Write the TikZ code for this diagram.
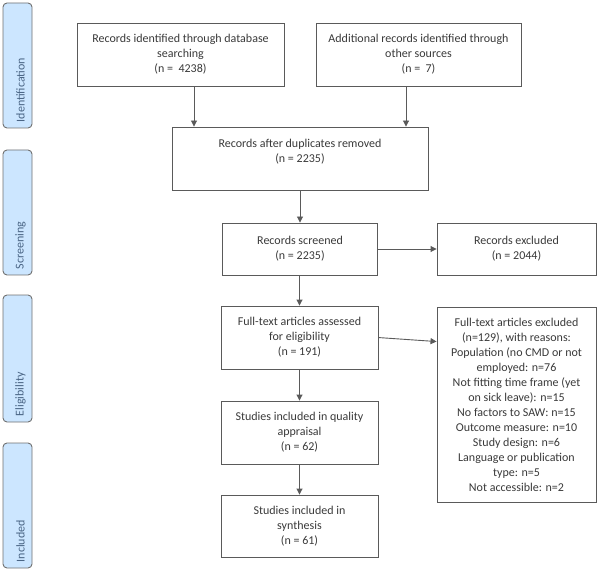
\documentclass[tikz,border=0pt]{standalone}
\usepackage{fontspec}
\setmainfont{Carlito}
\usetikzlibrary{arrows.meta,calc}
\definecolor{boxline}{HTML}{5A5A5A}
\definecolor{txt}{HTML}{3A3A3A}
\definecolor{phasefill}{HTML}{CCE6FF}
\definecolor{phaseline}{HTML}{707070}
\definecolor{phasetxt}{HTML}{4A6585}
\tikzset{
  flowbox/.style={draw=boxline, line width=0.9pt, fill=white, align=center, text=txt,
    font=\fontsize{12}{15}\selectfont, inner sep=2pt},
  phasebar/.style={draw=phaseline, line width=0.9pt, fill=phasefill, rounded corners=4pt,
    minimum width=29pt, inner sep=0pt},
  phaselabel/.style={rotate=90, anchor=west, text=phasetxt, font=\fontsize{12}{14}\selectfont, inner sep=0pt},
  flowarrow/.style={draw=boxline, line width=0.9pt, -{Triangle[length=6pt,width=6pt]}}
}
\begin{document}
\begin{tikzpicture}[x=1pt,y=-1pt]
\useasboundingbox (0,0) rectangle (602,577);
% phase bars
\node[phasebar, minimum height=125pt] (pI) at (17.5,65.5) {};
\node[phasebar, minimum height=125pt] (pS) at (17.5,212.5) {};
\node[phasebar, minimum height=127pt] (pE) at (17.5,358.5) {};
\node[phasebar, minimum height=125pt] (pC) at (17.5,505.5) {};
\node[phaselabel] (lI) at ($(pI.south)+(3,-6)$) {Identification};
\node[phaselabel] (lS) at ($(pS.south)+(3,-6)$) {Screening};
\node[phaselabel] (lE) at ($(pE.south)+(3,-6)$) {Eligibility};
\node[phaselabel] (lC) at ($(pC.south)+(3,-6)$) {Included};
% boxes
\node[flowbox, minimum width=207pt, minimum height=63pt] (b1) at (180.5,54.5)
  {Records identified through database\\searching\\(n =\ \ 4238)};
\node[flowbox, minimum width=205pt, minimum height=63pt] (b2) at (418.5,54.5)
  {Additional records identified through\\other sources\\(n =\ \ 7)};
\node[flowbox, minimum width=256pt, minimum height=63pt] (b3) at (300,158.5)
  {Records after duplicates removed\\(n = 2235)\\\mbox{}};
\node[flowbox, minimum width=155pt, minimum height=52pt] (b4) at (300,249)
  {Records screened\\(n = 2235)};
\node[flowbox, minimum width=159pt, minimum height=52pt] (e1) at (516.5,249)
  {Records excluded\\(n = 2044)};
\node[flowbox, minimum width=157pt, minimum height=63pt] (b5) at (299.5,337.5)
  {Full-text articles assessed\\for eligibility\\(n = 191)};
\node[flowbox, minimum width=159pt, minimum height=195pt] (e2) at (516.5,404.5)
  {Full-text articles excluded\\(n=129), with reasons:\\Population (no CMD or not\\employed: n=76\\Not fitting time frame (yet\\on sick leave): n=15\\No factors to SAW: n=15\\Outcome measure: n=10\\Study design: n=6\\Language or publication\\type: n=5\\Not accessible: n=2};
\node[flowbox, minimum width=157pt, minimum height=63pt] (b6) at (299.5,432.5)
  {Studies included in quality\\appraisal\\(n = 62)};
\node[flowbox, minimum width=157pt, minimum height=62pt] (b7) at (299.5,526)
  {Studies included in\\synthesis\\(n = 61)};
% connectors
\draw[flowarrow] (b1.south -| 194,0) -- (b3.north -| 194,0);
\draw[flowarrow] (b2.south -| 406,0) -- (b3.north -| 406,0);
\draw[flowarrow] (b3.south -| b4.north) -- (b4.north);
\draw[flowarrow] (b4.east) -- (e1.west);
\draw[flowarrow] ($(b5.north east)+(0,32)$) -- ($(e2.north west)+(0,35)$);
\draw[flowarrow] (b4.south -| b5.north) -- (b5.north);
\draw[flowarrow] (b5.south) -- (b6.north);
\draw[flowarrow] (b6.south) -- (b7.north);
\end{tikzpicture}
\end{document}
